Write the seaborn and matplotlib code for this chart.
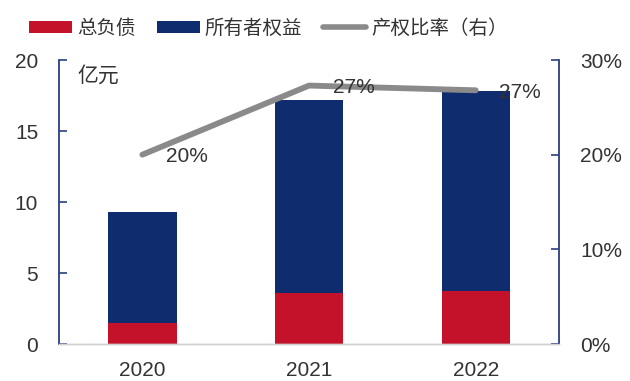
import matplotlib
matplotlib.use("Agg")
import matplotlib.pyplot as plt
from matplotlib.patches import Patch
from matplotlib.lines import Line2D
import seaborn as sns
import pandas as pd

years = ["2020", "2021", "2022"]
debt = [1.5, 3.6, 3.7]          # 总负债（亿元）
equity = [7.8, 13.6, 14.1]      # 所有者权益（亿元）
ratio = [0.20, 0.273, 0.268]    # 产权比率（右轴）
left_ticks = [0, 5, 10, 15, 20]
right_ticks = [0, 0.10, 0.20, 0.30]

RED = "#c3122a"
NAVY = "#0f2c6f"
GRAY = "#8a8a8a"
SPINE = "#2b3f80"
TXT = "#333333"
CJK = ["Noto Sans CJK SC", "DejaVu Sans"]

sns.set_theme(style="white")
plt.rcParams["font.family"] = ["Liberation Sans", "Noto Sans CJK SC", "DejaVu Sans"]

df = pd.DataFrame({"year": years, "debt": debt, "equity": equity, "ratio": ratio})
df["total"] = df["debt"] + df["equity"]

fig = plt.figure(figsize=(6.3, 3.81), dpi=100)
ax = fig.add_axes([0.0937, 0.0971, 0.7937, 0.7454])

# stacked bars: total height in navy, debt overlaid in red at the base
sns.barplot(data=df, x="year", y="total", color=NAVY, width=0.41,
            saturation=1, linewidth=0, ax=ax)
sns.barplot(data=df, x="year", y="debt", color=RED, width=0.41,
            saturation=1, linewidth=0, ax=ax)

ax.set_xlim(-0.5, 2.5)
ax.set_ylim(0, 20)
ax.set_yticks(left_ticks)
ax.set_yticklabels([str(t) for t in left_ticks])
ax.set_xlabel("")
ax.set_ylabel("")

ax2 = ax.twinx()
sns.lineplot(x=[0, 1, 2], y=df["ratio"].values, color=GRAY, linewidth=4.2,
             ax=ax2, legend=False)
ax2.set_ylim(0, 0.30)
ax2.set_yticks(right_ticks)
ax2.set_yticklabels([f"{t:.0%}" for t in right_ticks])
ax2.set_xlim(-0.5, 2.5)
ax2.set_ylabel("")

for i, r in enumerate(ratio):
    ax2.annotate(f"{r:.0%}", (i, r), xytext=(17, -1.5), textcoords="offset points",
                 ha="left", va="center", fontsize=15, color=TXT)

for a in (ax, ax2):
    a.spines["top"].set_visible(False)
    a.spines["bottom"].set_color("#d0d0d0")
    a.spines["bottom"].set_linewidth(1.0)

ax.spines["right"].set_visible(False)
ax.spines["left"].set_color(SPINE)
ax.spines["left"].set_linewidth(1.3)
ax2.spines["left"].set_visible(False)
ax2.spines["right"].set_color(SPINE)
ax2.spines["right"].set_linewidth(1.3)

ax.tick_params(axis="y", direction="in", length=6, width=1.2, color=SPINE,
               labelsize=15, labelcolor=TXT, pad=15, left=True)
ax.tick_params(axis="x", length=0, labelsize=15, labelcolor=TXT, pad=12)
ax2.tick_params(axis="y", direction="in", length=6, width=1.2, color=SPINE,
                labelsize=15, labelcolor=TXT, pad=15, right=True)

ax.text(0.036, 0.985, "亿元", transform=ax.transAxes, ha="left", va="top",
        fontsize=15, color=TXT, family=CJK)

handles = [
    Patch(facecolor=RED, edgecolor="none", label="总负债"),
    Patch(facecolor=NAVY, edgecolor="none", label="所有者权益"),
    Line2D([0], [0], color=GRAY, linewidth=4, label="产权比率（右）"),
]
fig.legend(handles=handles, loc="center", bbox_to_anchor=(0.426, 0.926), ncol=3,
           frameon=False, handlelength=2.2, handleheight=0.57,
           handletextpad=0.25, columnspacing=1.1, labelcolor=TXT,
           prop={"family": CJK, "size": 14})

fig.savefig("out.png", dpi=100, facecolor="white")
